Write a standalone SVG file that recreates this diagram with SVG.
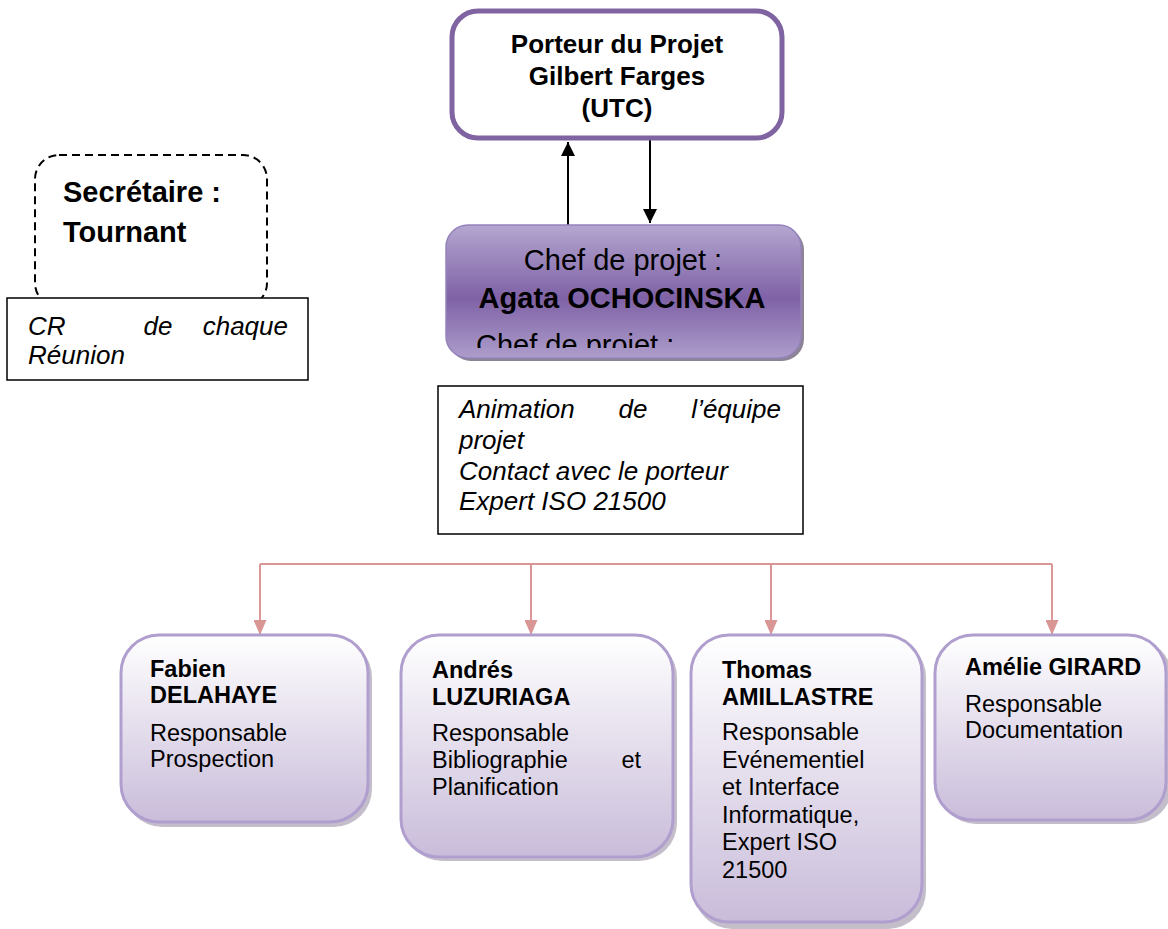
<svg xmlns="http://www.w3.org/2000/svg" width="1168" height="929" viewBox="0 0 1168 929">
  <style>
    text { font-family: "Liberation Sans", Arial, sans-serif; fill: #000; }
    .b { font-weight: bold; }
    .i { font-style: italic; }
    .top { font-size: 26px; font-weight: bold; text-anchor: middle; }
    .chef { font-size: 29px; }
    .note { font-size: 26px; font-style: italic; }
    .member { font-size: 23.5px; }
    .box-card { stroke: #B09FCE; stroke-width: 3; fill: url(#cardFill); }
    .card-shadow { fill: #9C92A8; opacity: 0.6; }
    .frame { fill: #fff; stroke: #000; stroke-width: 1.5; }
    .link-black { stroke: #000; stroke-width: 2; fill: none; }
    .link-pink { stroke: #D99694; stroke-width: 2; fill: none; }
  </style>
  <defs>
    <linearGradient id="cardFill" x1="0" y1="0" x2="0" y2="1">
      <stop offset="0" stop-color="#FFFFFF"/>
      <stop offset="1" stop-color="#C9BCDA"/>
    </linearGradient>
    <linearGradient id="chefFill" x1="0" y1="0" x2="0" y2="1">
      <stop offset="0" stop-color="#B4A6D0"/>
      <stop offset="0.55" stop-color="#7F62A6"/>
      <stop offset="1" stop-color="#AD9DCB"/>
    </linearGradient>
    <marker id="headBlack" viewBox="0 0 10 10" refX="10" refY="5" markerWidth="7" markerHeight="7" orient="auto" markerUnits="strokeWidth">
      <path d="M0,0 L10,5 L0,10 z" fill="#000"/>
    </marker>
    <marker id="headPink" viewBox="0 0 10 10" refX="10" refY="5" markerWidth="7.5" markerHeight="6.5" orient="auto" markerUnits="strokeWidth" preserveAspectRatio="none">
      <path d="M0,0 L10,5 L0,10 z" fill="#D99694"/>
    </marker>
    <clipPath id="chefClip">
      <rect x="446" y="225" width="356" height="123"/>
    </clipPath>
  </defs>

  <!-- connectors -->
  <g id="connectors">
    <line class="link-black" x1="568" y1="225" x2="568" y2="142" marker-end="url(#headBlack)"/>
    <line class="link-black" x1="650" y1="140" x2="650" y2="223" marker-end="url(#headBlack)"/>
    <polyline class="link-pink" points="260,564 1052,564"/>
    <line class="link-pink" x1="260" y1="564" x2="260" y2="635" marker-end="url(#headPink)"/>
    <line class="link-pink" x1="531" y1="564" x2="531" y2="635" marker-end="url(#headPink)"/>
    <line class="link-pink" x1="771" y1="564" x2="771" y2="635" marker-end="url(#headPink)"/>
    <line class="link-pink" x1="1052" y1="564" x2="1052" y2="635" marker-end="url(#headPink)"/>
  </g>

  <!-- project owner -->
  <g id="porteur">
    <rect x="452" y="11" width="330" height="127" rx="26" fill="#fff" stroke="#8064A2" stroke-width="5"/>
    <text class="top" x="617" y="53">Porteur du Projet</text>
    <text class="top" x="617" y="85">Gilbert Farges</text>
    <text class="top" x="617" y="117">(UTC)</text>
  </g>

  <!-- project manager -->
  <g id="chef">
    <rect x="449" y="228" width="355" height="133" rx="22" fill="#8C8494"/>
    <rect x="446" y="225" width="355" height="133" rx="22" fill="url(#chefFill)" stroke="#9482BB" stroke-width="1.5"/>
    <text class="chef" x="623" y="270" text-anchor="middle">Chef de projet :</text>
    <text class="chef b" x="622" y="308" text-anchor="middle">Agata OCHOCINSKA</text>
    <text class="chef" x="476" y="355" clip-path="url(#chefClip)">Chef de projet :</text>
  </g>

  <!-- manager duties -->
  <g id="chef-roles">
    <rect class="frame" x="438" y="386" width="365" height="148"/>
    <text class="note" x="459" y="418">Animation</text>
    <text class="note" x="633" y="418" text-anchor="middle">de</text>
    <text class="note" x="781" y="418" text-anchor="end">l’équipe</text>
    <text class="note" x="459" y="449">projet</text>
    <text class="note" x="459" y="480">Contact avec le porteur</text>
    <text class="note" x="459" y="510">Expert ISO 21500</text>
  </g>

  <!-- secretary -->
  <g id="secretaire">
    <rect x="35" y="155" width="232" height="152" rx="24" fill="#fff" stroke="#000" stroke-width="2" stroke-dasharray="8 5"/>
    <text class="b" x="63" y="202" font-size="29">Secrétaire :</text>
    <text class="b" x="63" y="242" font-size="29">Tournant</text>
  </g>
  <g id="secretaire-role">
    <rect class="frame" x="7" y="298" width="301" height="82"/>
    <text class="note" x="28" y="335">CR</text>
    <text class="note" x="158" y="335" text-anchor="middle">de</text>
    <text class="note" x="288" y="335" text-anchor="end">chaque</text>
    <text class="note" x="28" y="364">Réunion</text>
  </g>

  <!-- team members -->
  <g id="fabien">
    <rect class="card-shadow" x="124" y="639" width="248" height="188" rx="38"/>
    <rect class="box-card" x="121" y="635" width="247" height="187" rx="38"/>
    <text class="member b" x="150" y="677">Fabien</text>
    <text class="member b" x="150" y="703">DELAHAYE</text>
    <text class="member" x="150" y="741">Responsable</text>
    <text class="member" x="150" y="767">Prospection</text>
  </g>

  <g id="andres">
    <rect class="card-shadow" x="404" y="639" width="273" height="222" rx="38"/>
    <rect class="box-card" x="401" y="635" width="272" height="222" rx="38"/>
    <text class="member b" x="432" y="678">Andrés</text>
    <text class="member b" x="432" y="705">LUZURIAGA</text>
    <text class="member" x="432" y="741">Responsable</text>
    <text class="member" x="432" y="768">Bibliographie</text>
    <text class="member" x="641" y="768" text-anchor="end">et</text>
    <text class="member" x="432" y="795">Planification</text>
  </g>

  <g id="thomas">
    <rect class="card-shadow" x="694" y="639" width="232" height="290" rx="38"/>
    <rect class="box-card" x="691" y="635" width="231" height="287" rx="38"/>
    <text class="member b" x="722" y="678">Thomas</text>
    <text class="member b" x="722" y="705">AMILLASTRE</text>
    <text class="member" x="722" y="740">Responsable</text>
    <text class="member" x="722" y="767.5">Evénementiel</text>
    <text class="member" x="722" y="795">et Interface</text>
    <text class="member" x="722" y="822.5">Informatique,</text>
    <text class="member" x="722" y="850">Expert ISO</text>
    <text class="member" x="722" y="877.5">21500</text>
  </g>

  <g id="amelie">
    <rect class="card-shadow" x="938" y="639" width="234" height="185" rx="38"/>
    <rect class="box-card" x="935" y="635" width="231" height="185" rx="38"/>
    <text class="member b" x="965" y="675">Amélie GIRARD</text>
    <text class="member" x="965" y="712">Responsable</text>
    <text class="member" x="965" y="738">Documentation</text>
  </g>
</svg>
